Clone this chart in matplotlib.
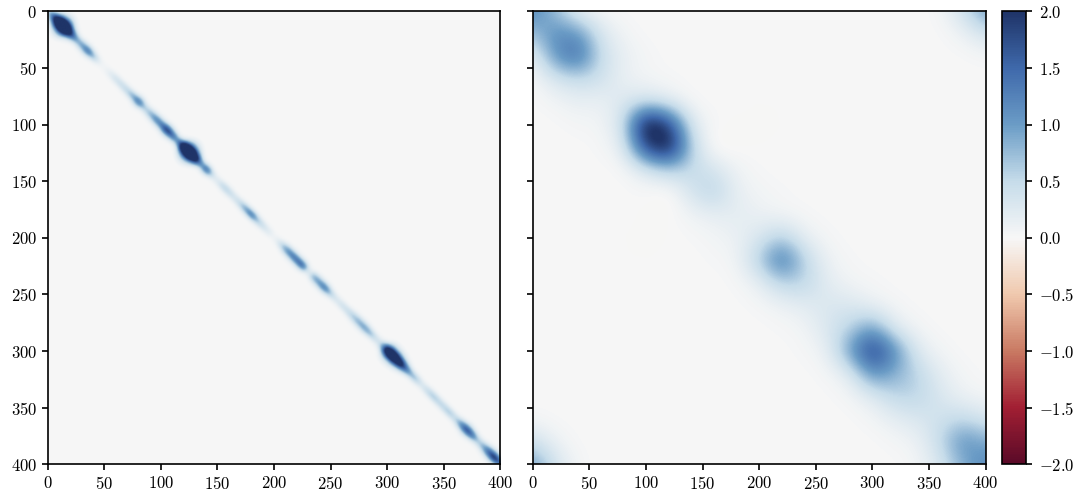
import numpy as np
import matplotlib
matplotlib.use("Agg")
import matplotlib.pyplot as plt
from matplotlib.colors import LinearSegmentedColormap

# Left panel: values read along the main diagonal, every 5 samples
left_positions = list(range(0, 401, 5))
left_diagonal = [
    0.3, 1.8, 3.8, 3.8, 1.8, 0.8, 0.9, 1.3, 0.6, 0.1, 0.05, 0.2, 0.35, 0.4, 0.5, 0.8, 1.3,
    0.5, 0.7, 1.1, 1.2, 1.9, 1.3, 0.9, 3.2, 3.8, 2.6, 0.8, 1.4, 0.3, 0.2, 0.5, 0.45, 0.3,
    0.5, 0.9, 1.2, 0.6, 0.35, 0.2, 0.05, 0.3, 0.9, 1.2, 1.3, 1.4, 0.05, 0.8, 1.0, 1.2, 0.5,
    0.25, 0.35, 0.4, 0.6, 0.8, 0.9, 0.7, 0.3, 0.5, 2.8, 3.2, 2.6, 1.6, 0.8, 0.6, 0.25, 0.4,
    0.6, 0.5, 0.5, 0.6, 0.4, 1.0, 1.7, 1.3, 0.5, 0.8, 1.5, 2.0, 1.2]
left_width = [
    0.8, 1.3, 1.7, 1.8, 1.3, 1.0, 1.1, 1.1, 1.0, 1.0, 1.0, 1.0, 1.0, 1.0, 1.0, 1.0, 1.2,
    1.0, 1.1, 1.1, 1.1, 1.2, 1.1, 1.0, 1.6, 1.8, 1.5, 1.0, 1.1, 1.0, 1.0, 1.0, 1.0, 1.0,
    1.0, 1.0, 1.0, 1.0, 1.0, 1.0, 1.0, 1.0, 1.1, 1.1, 1.1, 1.1, 1.0, 1.1, 1.1, 1.1, 1.0,
    1.0, 1.0, 1.0, 1.1, 1.1, 1.1, 1.0, 1.0, 1.1, 1.5, 1.5, 1.4, 1.2, 1.0, 1.0, 1.0, 1.0,
    1.0, 1.0, 1.0, 1.0, 1.0, 1.1, 1.2, 1.1, 1.0, 1.1, 1.2, 1.2, 1.0]
cross_offsets = [0, 2, 4, 6, 8, 10, 13, 16]
cross_values = [1.0, 0.88, 0.58, 0.28, 0.11, 0.04, 0.0, 0.0]

# Right panel: bands of a symmetric matrix sampled every 20 samples
right_step = 20
right_band0 = [1.2, 1.15, 1.5, 0.4, 0.28, 2.5, 2.4, 0.5, 0.6, 0.2, 0.3, 1.45, 0.55, 0.3, 0.55,
               2.0, 0.85, 0.55, 0.4, 1.15, 1.2]
right_band1 = [0.7, 1.1, 0.45, 0.12, 0.35, 1.9, 0.55, 0.35, 0.15, 0.12, 0.6, 0.55, 0.2, 0.3, 1.0,
               1.15, 0.55, 0.3, 0.5, 0.85]
right_band2 = [0.12, 0.3, 0.15, 0.05, 0.18, 0.25, -0.08, 0.08, 0.06, 0.06, 0.15, 0.1, 0.06, 0.12, 0.2,
               0.22, 0.18, 0.1, 0.3]
right_band3 = [0.02, 0.06, 0.04, 0.02, 0.01, 0.01, -0.02, 0.01, 0.02, 0.02, 0.03, 0.02, 0.03, 0.04,
               0.05, 0.05, 0.04, 0.05]
right_corner_i = [0, 0, 1, 1, 0, 2]
right_corner_j = [20, 19, 20, 19, 18, 20]
right_corner_v = [1.0, 0.4, 0.35, 0.1, 0.03, 0.03]

ticks = [0, 50, 100, 150, 200, 250, 300, 350, 400]
cbar_ticks = [-2.0, -1.5, -1.0, -0.5, 0.0, 0.5, 1.0, 1.5, 2.0]
vmin, vmax = -2.0, 2.0

plt.rcParams["font.family"] = ["cmr10", "DejaVu Serif"]
plt.rcParams["axes.formatter.use_mathtext"] = True
plt.rcParams["mathtext.fontset"] = "cm"
plt.rcParams["axes.unicode_minus"] = True

cmap = LinearSegmentedColormap.from_list("rdbu_soft", [
    (0.00, "#5a0a28"), (0.125, "#a21f33"), (0.25, "#c97a63"), (0.375, "#f0c9ae"), (0.5, "#f7f7f7"),
    (0.625, "#c6dcea"), (0.75, "#6b9cc6"), (0.875, "#3f69ab"), (1.00, "#1f3468")])

# Left field
grid = np.arange(0, 401)
xx, yy = np.meshgrid(grid, grid)
along = (xx + yy) / 2.0
fine = np.arange(0, 400.5, 0.5)
kernel = np.ones(11) / 11.0
diag_fine = np.convolve(np.pad(np.interp(fine, left_positions, left_diagonal), 5, mode="edge"), kernel, "valid")
width_fine = np.convolve(np.pad(np.interp(fine, left_positions, left_width), 5, mode="edge"), kernel, "valid")
amp = np.interp(along, fine, diag_fine)
wid = np.interp(along, fine, width_fine)
left_field = amp * np.interp(np.abs(xx - yy) / wid, cross_offsets, cross_values)

# Right field
n = len(right_band0)
right_field = np.zeros((n, n))
for k, band in enumerate([right_band0, right_band1, right_band2, right_band3]):
    for i, v in enumerate(band):
        right_field[i, i + k] = v
        right_field[i + k, i] = v
for i, j, v in zip(right_corner_i, right_corner_j, right_corner_v):
    right_field[i, j] = v
    right_field[j, i] = v
half = right_step / 2

W, H = 1084, 496
fig = plt.figure(figsize=(W / 100, H / 100), dpi=100)
def box(l, t, r, b):
    return [l / W, 1 - b / H, (r - l) / W, (b - t) / H]
ax1 = fig.add_axes(box(47.5, 11.3, 500.3, 464.3))
ax2 = fig.add_axes(box(532.8, 11.3, 985.6, 464.3))
cax = fig.add_axes(box(1001.5, 11.3, 1025.5, 464.3))

im = ax1.imshow(left_field, cmap=cmap, vmin=vmin, vmax=vmax, extent=(0, 400, 400, 0), interpolation="gaussian")
ax2.imshow(right_field, cmap=cmap, vmin=vmin, vmax=vmax,
           extent=(-half, 400 + half, 400 + half, -half), interpolation="bicubic")
for ax in (ax1, ax2):
    ax.set_xlim(0, 400)
    ax.set_ylim(400, 0)
    ax.set_xticks(ticks)
    ax.set_yticks(ticks)
    ax.set_aspect("auto")
    ax.tick_params(length=4.5, width=1.2, labelsize=12, pad=3)
    for s in ax.spines.values():
        s.set_linewidth(1.2)
ax2.tick_params(labelleft=False)

cb = fig.colorbar(im, cax=cax)
cb.set_ticks(cbar_ticks)
cb.ax.tick_params(length=4.5, width=1.2, labelsize=12, pad=5)
cb.outline.set_linewidth(1.2)

fig.savefig("out.png", dpi=100)
